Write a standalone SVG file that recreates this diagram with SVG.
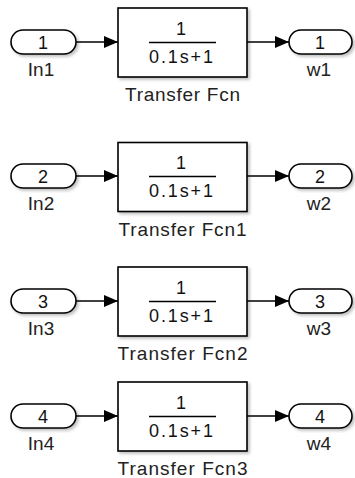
<svg xmlns="http://www.w3.org/2000/svg" width="355" height="478" viewBox="0 0 355 478">
<defs>
<filter id="sh" x="-10%" y="-10%" width="130%" height="130%">
<feDropShadow dx="2" dy="2" stdDeviation="1.5" flood-color="#000" flood-opacity="0.25"/>
</filter>
<marker id="ar" markerWidth="14" markerHeight="12" refX="14" refY="6" orient="auto" markerUnits="userSpaceOnUse">
<path d="M0,0 L14,6 L0,12 Z" fill="#000"/>
</marker>
</defs>
<style>
.port{fill:#fff;stroke:#000;stroke-width:1.6;filter:url(#sh)}
.blk{fill:#fff;stroke:#000;stroke-width:1.6;filter:url(#sh)}
.frac{stroke:#000;stroke-width:1.3}
.t{font-family:"Liberation Sans",Arial,sans-serif;font-size:18px;fill:#111;text-anchor:middle}
.lbl{font-family:"Liberation Sans",Arial,sans-serif;font-size:19px;fill:#222;text-anchor:middle}
.wire{stroke:#000;stroke-width:1.3;fill:none;marker-end:url(#ar)}
</style>
<g id="connectors">
<line class="wire" x1="76" y1="42" x2="118" y2="42"/>
<line class="wire" x1="247" y1="42" x2="289" y2="42"/>
<line class="wire" x1="76" y1="176" x2="118" y2="176"/>
<line class="wire" x1="247" y1="176" x2="289" y2="176"/>
<line class="wire" x1="76" y1="301" x2="118" y2="301"/>
<line class="wire" x1="247" y1="301" x2="289" y2="301"/>
<line class="wire" x1="76" y1="416" x2="118" y2="416"/>
<line class="wire" x1="247" y1="416" x2="289" y2="416"/>
</g>
<g id="In1"><rect class="port" x="11" y="30" width="65" height="24" rx="12" ry="12"/><text class="t" x="43" y="48.5">1</text><text class="lbl" x="41" y="76">In1</text></g>
<g id="TransferFcn"><rect class="blk" x="118" y="8" width="129" height="69"/><text class="t" x="181" y="35">1</text><line class="frac" x1="149" y1="42.5" x2="216" y2="42.5"/><text class="t" x="181" y="63" textLength="64" lengthAdjust="spacing">0.1s+1</text><text class="lbl" x="182.5" y="101" textLength="115" lengthAdjust="spacing">Transfer Fcn</text></g>
<g id="w1"><rect class="port" x="289" y="30" width="63" height="24" rx="12" ry="12"/><text class="t" x="320" y="48.5">1</text><text class="lbl" x="319" y="76">w1</text></g>

<g id="In2"><rect class="port" x="11" y="164" width="65" height="24" rx="12" ry="12"/><text class="t" x="43" y="182.5">2</text><text class="lbl" x="41" y="210">In2</text></g>
<g id="TransferFcn1"><rect class="blk" x="118" y="142.5" width="129" height="69"/><text class="t" x="181" y="169">1</text><line class="frac" x1="149" y1="176.5" x2="216" y2="176.5"/><text class="t" x="181" y="197" textLength="64" lengthAdjust="spacing">0.1s+1</text><text class="lbl" x="182.5" y="235.5" textLength="128" lengthAdjust="spacing">Transfer Fcn1</text></g>
<g id="w2"><rect class="port" x="289" y="164" width="63" height="24" rx="12" ry="12"/><text class="t" x="320" y="182.5">2</text><text class="lbl" x="319" y="210">w2</text></g>

<g id="In3"><rect class="port" x="11" y="289" width="65" height="24" rx="12" ry="12"/><text class="t" x="43" y="307.5">3</text><text class="lbl" x="41" y="335">In3</text></g>
<g id="TransferFcn2"><rect class="blk" x="118" y="267" width="129" height="69"/><text class="t" x="181" y="294">1</text><line class="frac" x1="149" y1="301.5" x2="216" y2="301.5"/><text class="t" x="181" y="322" textLength="64" lengthAdjust="spacing">0.1s+1</text><text class="lbl" x="182.5" y="360" textLength="130" lengthAdjust="spacing">Transfer Fcn2</text></g>
<g id="w3"><rect class="port" x="289" y="289" width="63" height="24" rx="12" ry="12"/><text class="t" x="320" y="307.5">3</text><text class="lbl" x="319" y="335">w3</text></g>

<g id="In4"><rect class="port" x="11" y="404" width="65" height="24" rx="12" ry="12"/><text class="t" x="43" y="422.5">4</text><text class="lbl" x="41" y="450">In4</text></g>
<g id="TransferFcn3"><rect class="blk" x="118" y="382" width="129" height="69"/><text class="t" x="181" y="409">1</text><line class="frac" x1="149" y1="416.5" x2="216" y2="416.5"/><text class="t" x="181" y="437" textLength="64" lengthAdjust="spacing">0.1s+1</text><text class="lbl" x="182.5" y="474.5" textLength="130" lengthAdjust="spacing">Transfer Fcn3</text></g>
<g id="w4"><rect class="port" x="289" y="404" width="63" height="24" rx="12" ry="12"/><text class="t" x="320" y="422.5">4</text><text class="lbl" x="319" y="450">w4</text></g>
</svg>
